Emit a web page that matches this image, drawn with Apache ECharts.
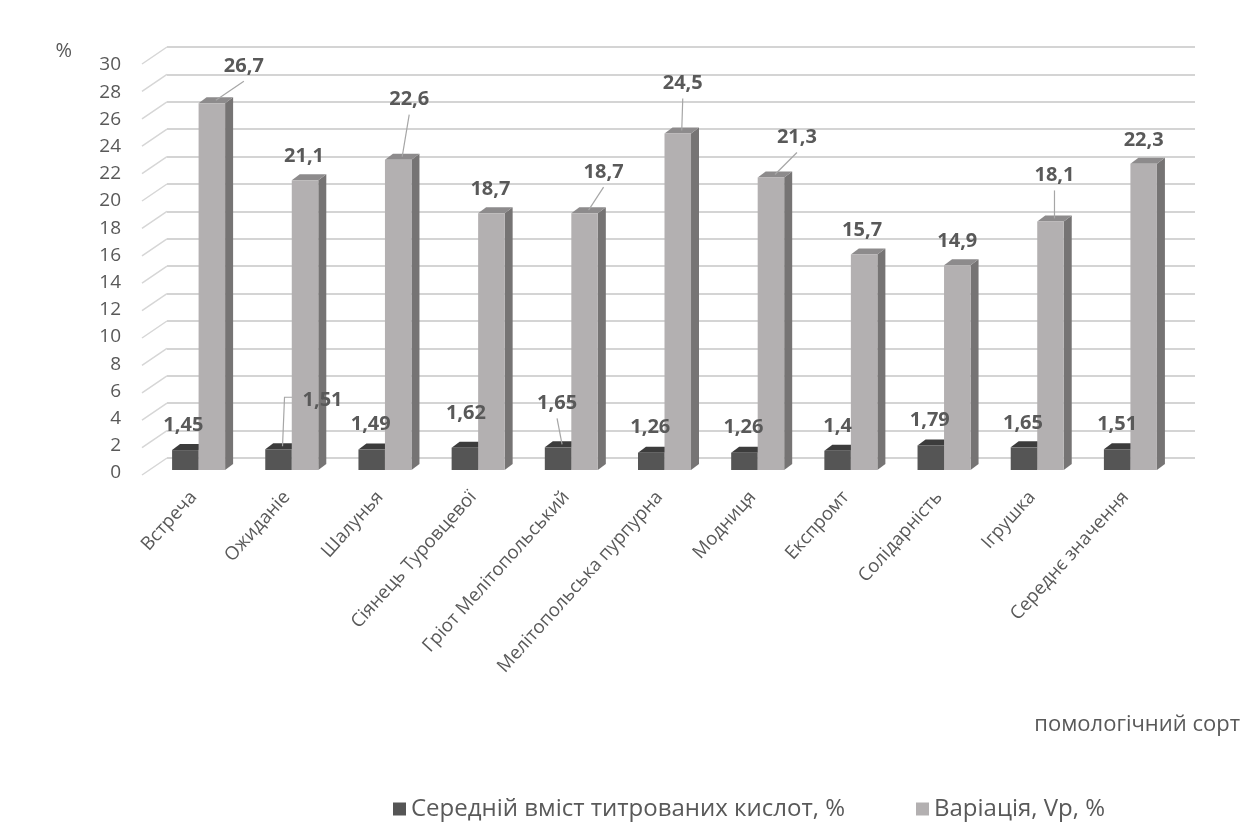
<!DOCTYPE html>
<html>
<head>
<meta charset="utf-8">
<script src="https://cdn.jsdelivr.net/npm/echarts@6/dist/echarts.min.js"></script>
<style>
html,body{margin:0;padding:0;background:#fff;}
#c{width:1241px;height:823px;}
</style>
</head>
<body>
<div id="c"></div>
<script>
// ---- data ----
const categories = ['Встреча','Ожиданіе','Шалунья','Сіянець Туровцевої','Гріот Мелітопольський','Мелітопольська пурпурна','Модниця','Експромт','Солідарність','Ігрушка','Середнє значення'];
const acidValues = [1.45, 1.51, 1.49, 1.62, 1.65, 1.26, 1.26, 1.4, 1.79, 1.65, 1.51];
const variationValues = [26.7, 21.1, 22.6, 18.7, 18.7, 24.5, 21.3, 15.7, 14.9, 18.1, 22.3];
const yTicks = [0, 2, 4, 6, 8, 10, 12, 14, 16, 18, 20, 22, 24, 26, 28, 30];
const seriesNames = ['Середній вміст титрованих кислот, %', 'Варіація, Vp, %'];
const yAxisName = '%';
const xAxisName = 'помологічний сорт';

// ---- label placement (offsets from the bar top centre) and leader-line kinds ----
// leader kind: 0 none, 1 straight line from label bottom, 2 elbow from label left
const acidLabelShift = [[-2,-25],[44,-49],[-1,-25],[1,-34],[-1,-44],[-1,-25],[-1,-25],[0,-24],[-1,-25],[-1,-24],[0,-25]];
const varLabelShift = [[32,-37],[-1,-24],[11,-60],[-1,-24],[19,-41],[5,-50],[26,-40],[-2,-24],[0,-24],[4,-46],[0,-23]];
const acidLeader = [0,2,0,0,1,0,0,0,0,0,0];
const varLeader = [1,0,1,0,1,1,1,0,0,1,0];

// ---- style ----
const FONT = 'Open Sans';
const TXT = '#595959';
const BAR_RATIO = 0.2845;
const DEPTH = [8, -6];
const WALL = [25, -17];
const COLORS = {
  acid: {front: '#555555', top: '#3c3c3c', side: '#3a3a3a'},
  vari: {front: '#b3b0b1', top: '#8d8b8c', side: '#767474'}
};
const LEADER_COLOR = '#a6a6a6';

const LEFT_BAR = 152, LEFT_FRONT = 147, LEFT_BACK = 167;
const PLOT_W = 1025;

function facesRenderer(which, col, shifts, leaders) {
  return function (params, api) {
    const i = api.value(0), v = api.value(1);
    const top = api.coord([i, v]);
    const base = api.coord([i, 0]);
    const band = api.size([1, 0])[0];
    const w = band * BAR_RATIO;
    const x0 = which === 0 ? top[0] - w : top[0];
    const x1 = x0 + w;
    const cx = (x0 + x1) / 2;
    const dx = DEPTH[0], dy = DEPTH[1];
    const children = [
      {type: 'polygon', shape: {points: [[x1, top[1]], [x1 + dx, top[1] + dy], [x1 + dx, base[1] + dy], [x1, base[1]]]}, style: {fill: col.side}},
      {type: 'polygon', shape: {points: [[x0, top[1]], [x1, top[1]], [x1 + dx, top[1] + dy], [x0 + dx, top[1] + dy]]}, style: {fill: col.top}}
    ];
    const kind = leaders[params.dataIndex];
    const s = shifts[params.dataIndex];
    const lx = cx + s[0], ly = top[1] + s[1];
    const endPt = [cx + dx / 2, top[1] + dy / 2];
    if (kind === 1) {
      children.push({type: 'polyline', z2: 10, shape: {points: [[lx, ly + 15], endPt]}, style: {stroke: LEADER_COLOR, lineWidth: 1.2, fill: null}});
    } else if (kind === 2) {
      children.push({type: 'polyline', z2: 10, shape: {points: [[lx - 22, ly - 3], [cx + 6, ly - 3], endPt]}, style: {stroke: LEADER_COLOR, lineWidth: 1.2, fill: null}});
    }
    return {type: 'group', children: children};
  };
}

function wallRenderer(params, api) {
  const v = api.value(1);
  const p = api.coord([0, v]);
  const x = params.coordSys.x;
  return {
    type: 'line',
    shape: {x1: x, y1: p[1], x2: x - WALL[0], y2: p[1] - WALL[1]},
    style: {stroke: '#d6d6d6', lineWidth: 1.5}
  };
}

function labelLayoutFor(shift) {
  return function (p) {
    const s = shift[p.dataIndex];
    return {
      x: p.rect.x + p.rect.width / 2 + s[0],
      y: p.rect.y + s[1],
      align: 'center',
      verticalAlign: 'middle'
    };
  };
}

const labelStyle = {show: true, position: 'top', fontFamily: FONT, fontWeight: 'bold', fontSize: 20, color: TXT, formatter: p => String(p.value).replace('.', ',')};

const chart = echarts.init(document.getElementById('c'), null, {renderer: 'canvas'});
chart.setOption({
  animation: false,
  backgroundColor: '#ffffff',
  textStyle: {fontFamily: FONT},
  grid: [
    {left: LEFT_BAR, width: PLOT_W, top: 58, height: 412},
    {left: LEFT_FRONT, width: PLOT_W, top: 65, height: 408},
    {left: LEFT_BACK, width: 1028, top: 47, height: 411}
  ],
  xAxis: [
    {gridIndex: 0, type: 'category', data: categories, show: false},
    {gridIndex: 1, type: 'category', data: categories,
      axisLine: {show: false}, axisTick: {show: false},
      axisLabel: {rotate: 48, margin: 21, color: TXT, fontSize: 18.5, fontFamily: FONT, interval: 0},
      name: xAxisName, nameLocation: 'end', nameGap: 68,
      nameTextStyle: {color: TXT, fontSize: 22, fontFamily: FONT, align: 'right', verticalAlign: 'top', padding: [241, 0, 0, 0]}
    },
    {gridIndex: 2, type: 'category', data: categories, show: false}
  ],
  yAxis: [
    {gridIndex: 0, type: 'value', min: 0, max: 30, interval: 2, show: false},
    {gridIndex: 1, type: 'value', min: 0, max: 30, interval: 2,
      axisLine: {show: false}, axisTick: {show: false}, splitLine: {show: false},
      axisLabel: {margin: 26, color: TXT, fontSize: 19, fontFamily: FONT},
      name: yAxisName, nameLocation: 'end', nameGap: 4,
      nameTextStyle: {color: TXT, fontSize: 20, fontFamily: FONT, align: 'right', padding: [0, 75, 0, 0]}
    },
    {gridIndex: 2, type: 'value', min: 0, max: 30, interval: 2,
      axisLine: {show: false}, axisTick: {show: false}, axisLabel: {show: false},
      splitLine: {show: true, lineStyle: {color: '#d4d4d4', width: 2}}
    }
  ],
  legend: {
    data: seriesNames,
    left: 388, top: 790,
    icon: 'rect', itemWidth: 13, itemHeight: 13, itemGap: 71,
    textStyle: {color: TXT, fontSize: 24, fontFamily: FONT, lineHeight: 28}
  },
  series: [
    {type: 'custom', name: 'wall', xAxisIndex: 2, yAxisIndex: 2, z: 1, silent: true,
      data: yTicks.map(t => [0, t]), encode: {x: 0, y: 1}, renderItem: wallRenderer},
    {type: 'custom', name: 'acid3d', xAxisIndex: 0, yAxisIndex: 0, z: 2, silent: true,
      data: acidValues.map((v, i) => [i, v]), encode: {x: 0, y: 1},
      renderItem: facesRenderer(0, COLORS.acid, acidLabelShift, acidLeader)},
    {type: 'custom', name: 'vari3d', xAxisIndex: 0, yAxisIndex: 0, z: 2, silent: true,
      data: variationValues.map((v, i) => [i, v]), encode: {x: 0, y: 1},
      renderItem: facesRenderer(1, COLORS.vari, varLabelShift, varLeader)},
    {type: 'bar', name: seriesNames[0], xAxisIndex: 0, yAxisIndex: 0, z: 3,
      barWidth: (BAR_RATIO * 100) + '%', barGap: '0%',
      itemStyle: {color: COLORS.acid.front},
      data: acidValues,
      label: labelStyle, labelLayout: labelLayoutFor(acidLabelShift)},
    {type: 'bar', name: seriesNames[1], xAxisIndex: 0, yAxisIndex: 0, z: 3,
      barWidth: (BAR_RATIO * 100) + '%', barGap: '0%',
      itemStyle: {color: COLORS.vari.front},
      data: variationValues,
      label: labelStyle, labelLayout: labelLayoutFor(varLabelShift)}
  ]
});
</script>
</body>
</html>
